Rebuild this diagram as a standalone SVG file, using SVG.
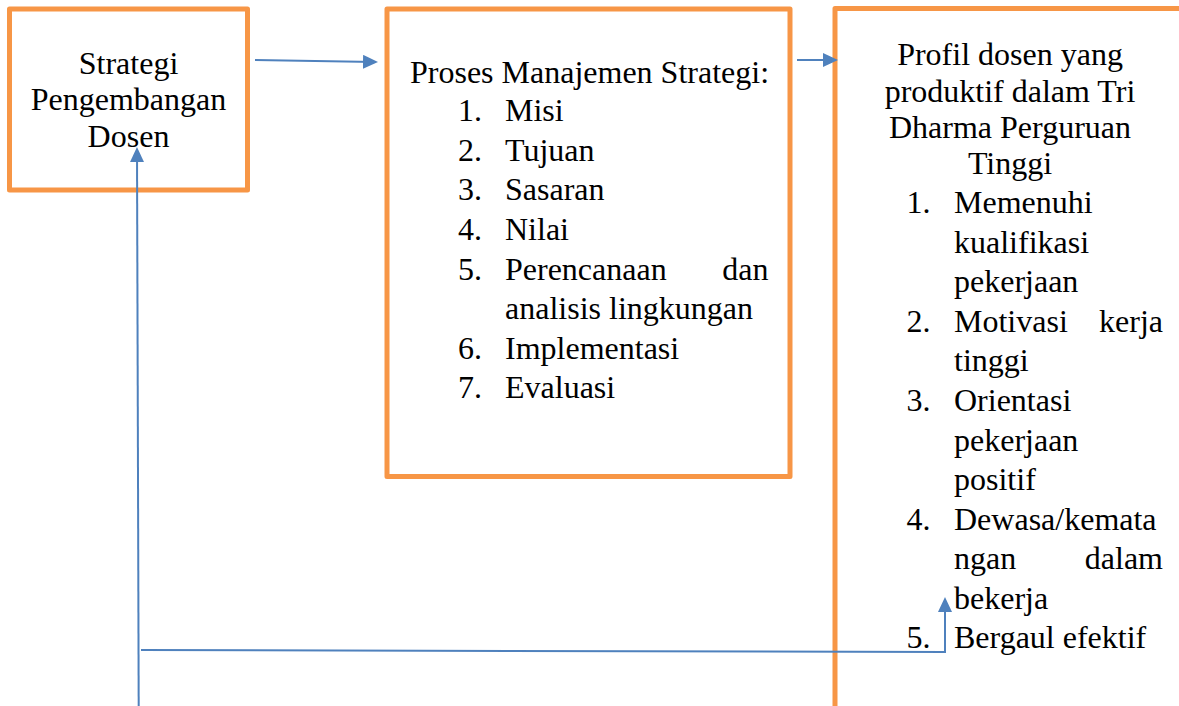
<svg xmlns="http://www.w3.org/2000/svg" width="1179" height="706" viewBox="0 0 1179 706">
<style>
.box{fill:#ffffff;stroke:#F79646;stroke-width:5;stroke-linejoin:round}
.t{font-family:"Liberation Serif","Times New Roman",serif;font-size:32px;fill:#000000}
.c{text-anchor:middle}
.e{text-anchor:end}
.ln{fill:none;stroke:#4F81BD;stroke-width:2}
</style>
<defs>
<marker id="ah" markerUnits="userSpaceOnUse" markerWidth="16" markerHeight="14" refX="12" refY="7" orient="auto">
<path d="M0,0 L15,7 L0,14 z" fill="#4F81BD"/>
</marker>
</defs>
<rect width="1179" height="706" fill="#ffffff"/>
<g id="node-strategi">
<rect class="box" x="9.5" y="9" width="238" height="181"/>
<text class="t c" x="128.5" y="73.5">Strategi</text>
<text class="t c" x="128.5" y="110.3">Pengembangan</text>
<text class="t c" x="128.5" y="147">Dosen</text>
</g>
<g id="node-proses">
<rect class="box" x="387" y="9" width="403" height="467.5"/>
<text class="t" x="410" y="83.3">Proses Manajemen Strategi:</text>
<text class="t" x="458" y="121">1.</text><text class="t" x="505" y="121">Misi</text>
<text class="t" x="458" y="160.5">2.</text><text class="t" x="505" y="160.5">Tujuan</text>
<text class="t" x="458" y="200">3.</text><text class="t" x="505" y="200">Sasaran</text>
<text class="t" x="458" y="239.5">4.</text><text class="t" x="505" y="239.5">Nilai</text>
<text class="t" x="458" y="279.5">5.</text><text class="t" x="505" y="279.5">Perencanaan</text><text class="t e" x="768.5" y="279.5">dan</text>
<text class="t" x="505" y="319">analisis lingkungan</text>
<text class="t" x="458" y="358.5">6.</text><text class="t" x="505" y="358.5">Implementasi</text>
<text class="t" x="458" y="398">7.</text><text class="t" x="505" y="398">Evaluasi</text>
</g>
<g id="node-profil">
<rect class="box" x="835" y="8.5" width="360" height="710"/>
<text class="t c" x="1010" y="65">Profil dosen yang</text>
<text class="t c" x="1010" y="101.5">produktif dalam Tri</text>
<text class="t c" x="1010" y="137.5">Dharma Perguruan</text>
<text class="t c" x="1010" y="174">Tinggi</text>
<text class="t" x="906.5" y="213">1.</text><text class="t" x="954" y="213">Memenuhi</text>
<text class="t" x="954" y="252.5">kualifikasi</text>
<text class="t" x="954" y="292">pekerjaan</text>
<text class="t" x="906.5" y="331.5">2.</text><text class="t" x="954" y="331.5">Motivasi</text><text class="t e" x="1163" y="331.5">kerja</text>
<text class="t" x="954" y="371">tinggi</text>
<text class="t" x="906.5" y="411">3.</text><text class="t" x="954" y="411">Orientasi</text>
<text class="t" x="954" y="450.5">pekerjaan</text>
<text class="t" x="954" y="490">positif</text>
<text class="t" x="906.5" y="529.5">4.</text><text class="t" x="954" y="529.5">Dewasa/kemata</text>
<text class="t" x="954" y="569">ngan</text><text class="t e" x="1163" y="569">dalam</text>
<text class="t" x="954" y="608.5">bekerja</text>
<text class="t" x="906.5" y="648">5.</text><text class="t" x="954" y="648">Bergaul efektif</text>
</g>
<g id="connectors">
<path class="ln" d="M255,60 L375,62" marker-end="url(#ah)"/>
<path class="ln" d="M797,60 L835,60" marker-end="url(#ah)"/>
<path class="ln" d="M138.7,706 L137,150" marker-end="url(#ah)"/>
<path class="ln" d="M141,650 L945,652 L945,600" marker-end="url(#ah)"/>
</g>
</svg>
